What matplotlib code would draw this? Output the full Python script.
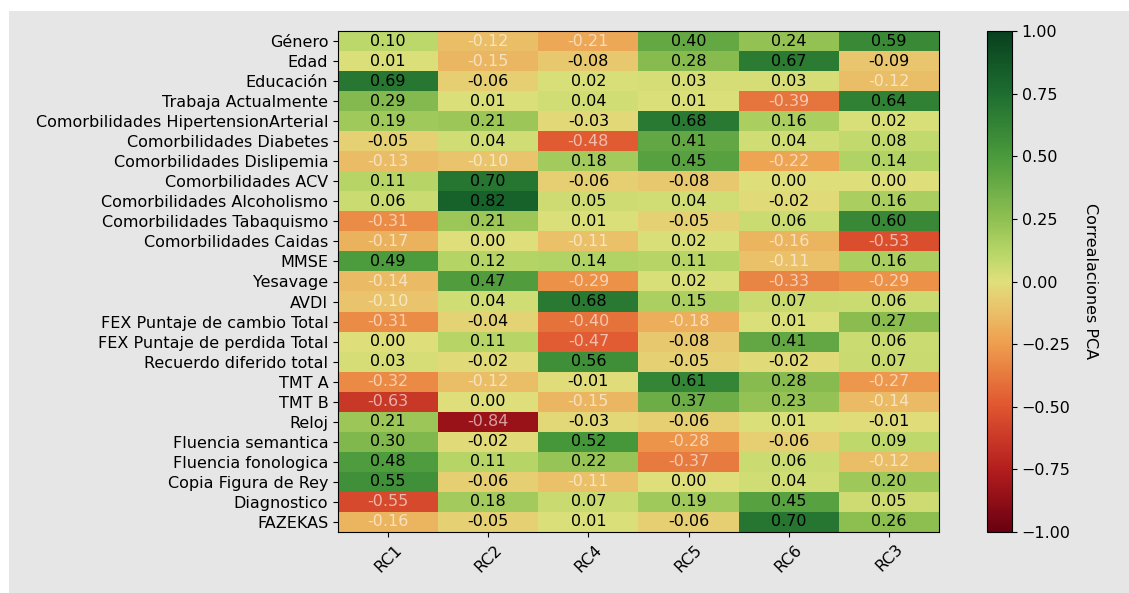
import numpy as np
import matplotlib.pyplot as plt
from matplotlib.patches import Rectangle
from matplotlib.colors import LinearSegmentedColormap

# PCA correlation matrix (rows = variables, cols = components)
components = ['RC1', 'RC2', 'RC4', 'RC5', 'RC6', 'RC3']
variables = [
    'Género', 'Edad', 'Educación', 'Trabaja Actualmente',
    'Comorbilidades HipertensionArterial', 'Comorbilidades Diabetes',
    'Comorbilidades Dislipemia', 'Comorbilidades ACV',
    'Comorbilidades Alcoholismo', 'Comorbilidades Tabaquismo',
    'Comorbilidades Caidas', 'MMSE', 'Yesavage', 'AVDI',
    'FEX Puntaje de cambio Total', 'FEX Puntaje de perdida Total',
    'Recuerdo diferido total', 'TMT A', 'TMT B', 'Reloj',
    'Fluencia semantica', 'Fluencia fonologica', 'Copia Figura de Rey',
    'Diagnostico', 'FAZEKAS',
]

rc1 = [0.10, 0.01, 0.69, 0.29, 0.19, -0.05, -0.13, 0.11, 0.06, -0.31, -0.17, 0.49, -0.14,
       -0.10, -0.31, 0.00, 0.03, -0.32, -0.63, 0.21, 0.30, 0.48, 0.55, -0.55, -0.16]
rc2 = [-0.12, -0.15, -0.06, 0.01, 0.21, 0.04, -0.10, 0.70, 0.82, 0.21, 0.00, 0.12, 0.47,
       0.04, -0.04, 0.11, -0.02, -0.12, 0.00, -0.84, -0.02, 0.11, -0.06, 0.18, -0.05]
rc4 = [-0.21, -0.08, 0.02, 0.04, -0.03, -0.48, 0.18, -0.06, 0.05, 0.01, -0.11, 0.14, -0.29,
       0.68, -0.40, -0.47, 0.56, -0.01, -0.15, -0.03, 0.52, 0.22, -0.11, 0.07, 0.01]
rc5 = [0.40, 0.28, 0.03, 0.01, 0.68, 0.41, 0.45, -0.08, 0.04, -0.05, 0.02, 0.11, 0.02,
       0.15, -0.18, -0.08, -0.05, 0.61, 0.37, -0.06, -0.28, -0.37, 0.00, 0.19, -0.06]
rc6 = [0.24, 0.67, 0.03, -0.39, 0.16, 0.04, -0.22, 0.00, -0.02, 0.06, -0.16, -0.11, -0.33,
       0.07, 0.01, 0.41, -0.02, 0.28, 0.23, 0.01, -0.06, 0.06, 0.04, 0.45, 0.70]
rc3 = [0.59, -0.09, -0.12, 0.64, 0.02, 0.08, 0.14, 0.00, 0.16, 0.60, -0.53, 0.16, -0.29,
       0.06, 0.27, 0.06, 0.07, -0.27, -0.14, -0.01, 0.09, -0.12, 0.20, 0.05, 0.26]

data = np.column_stack([rc1, rc2, rc4, rc5, rc6, rc3])

# colour ramp (roughly RdYlGn, but darker/more saturated)
cmap = LinearSegmentedColormap.from_list('pca', [
    (0.000, '#6a0010'),
    (0.125, '#b41e1e'),
    (0.250, '#e05530'),
    (0.375, '#ee9e4e'),
    (0.450, '#eac46c'),
    (0.500, '#e0e07c'),
    (0.550, '#bcd86a'),
    (0.625, '#90c052'),
    (0.750, '#4a9a3c'),
    (0.875, '#1e6e30'),
    (1.000, '#08401e'),
])

plt.rcParams['font.size'] = 11.5
bg = '#e6e6e6'

fig = plt.figure(figsize=(11.29, 5.93), dpi=100, facecolor='white')
fig.patches.append(Rectangle((9 / 1129, 0), 1, 1 - 11 / 593, transform=fig.transFigure,
                             facecolor=bg, edgecolor='none', zorder=-10))

W, H = 1129, 593
ax = fig.add_axes([338 / W, 1 - 532 / H, (939 - 338) / W, (532 - 31) / H])
cax = fig.add_axes([987 / W, 1 - 532 / H, (1012 - 987) / W, (532 - 31) / H])

im = ax.imshow(data, cmap=cmap, vmin=-1, vmax=1, aspect='auto')
ax.set_xticks(range(len(components)))
ax.set_xticklabels(components, rotation=45)
ax.set_yticks(range(len(variables)))
ax.set_yticklabels(variables)

for i in range(data.shape[0]):
    for j in range(data.shape[1]):
        v = data[i, j]
        if v <= -0.10:
            ax.text(j, i, f'{v:.2f}', ha='center', va='center', color='white', alpha=0.6)
        else:
            ax.text(j, i, f'{v:.2f}', ha='center', va='center', color='black')

cb = fig.colorbar(im, cax=cax)
cb.set_ticks([-1, -0.75, -0.5, -0.25, 0, 0.25, 0.5, 0.75, 1.0])
cb.set_label('Correalaciones PCA', rotation=270, labelpad=20)

fig.savefig('out.png', dpi=100)
